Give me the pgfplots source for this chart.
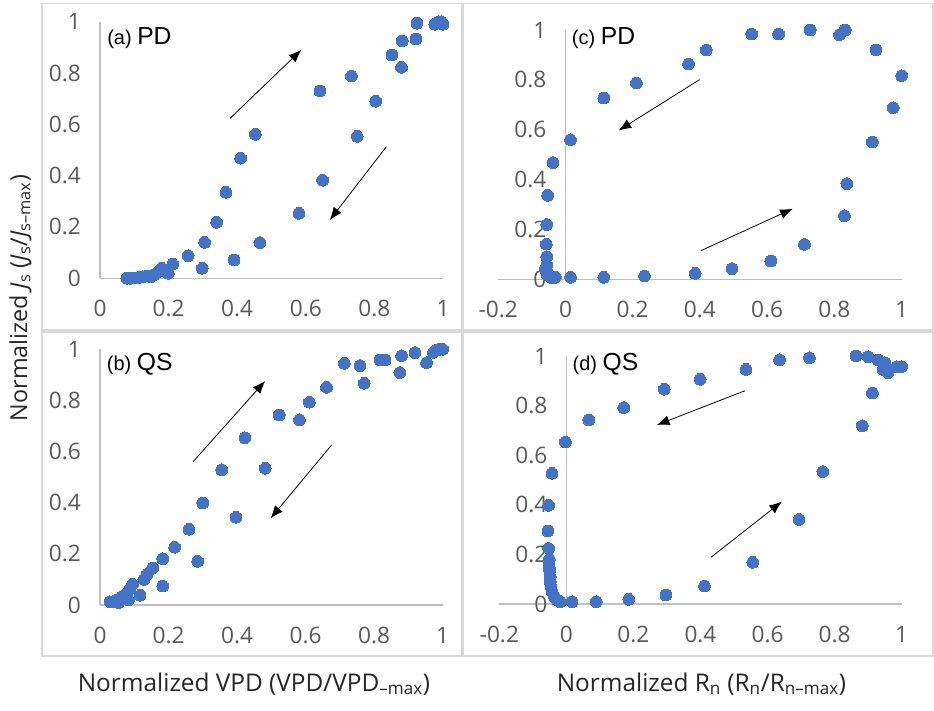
\documentclass[border=0pt]{standalone}
\usepackage{pgfplots}
\pgfplotsset{compat=1.18}
\usepackage{fontspec}
\setmainfont{Open Sans}
\newfontfamily\arialf{Liberation Sans}
\usetikzlibrary{arrows.meta}
\definecolor{dotblue}{HTML}{4472C4}
\definecolor{ticktxt}{HTML}{595959}
\definecolor{axln}{HTML}{BFBFBF}
\definecolor{frm}{HTML}{D9D9D9}

\pgfplotstableread{
x y
0.078 0.000
0.089 0.000
0.100 0.001
0.112 0.003
0.124 0.006
0.136 0.009
0.148 0.006
0.157 0.013
0.170 0.026
0.180 0.039
0.199 0.019
0.212 0.055
0.257 0.088
0.298 0.039
0.305 0.140
0.340 0.218
0.367 0.335
0.391 0.071
0.410 0.468
0.453 0.561
0.466 0.139
0.580 0.253
0.641 0.730
0.649 0.382
0.733 0.788
0.750 0.553
0.804 0.690
0.851 0.870
0.879 0.822
0.881 0.925
0.921 0.932
0.924 0.994
0.976 0.990
0.988 1.000
0.995 1.000
1.000 0.990
}\dataA

\pgfplotstableread{
x y
0.029 0.013
0.039 0.013
0.049 0.020
0.054 0.009
0.058 0.026
0.068 0.035
0.078 0.046
0.083 0.020
0.088 0.065
0.095 0.081
0.117 0.038
0.128 0.100
0.138 0.121
0.154 0.145
0.183 0.074
0.183 0.181
0.218 0.226
0.260 0.296
0.285 0.171
0.300 0.399
0.355 0.529
0.397 0.343
0.423 0.654
0.482 0.535
0.523 0.743
0.582 0.724
0.611 0.793
0.661 0.851
0.713 0.945
0.759 0.936
0.771 0.867
0.817 0.958
0.832 0.958
0.875 0.909
0.880 0.975
0.919 0.987
0.953 0.948
0.973 0.988
0.982 0.997
0.992 1.000
1.000 1.000
}\dataB

\pgfplotstableread{
x y
-0.060 0.040
-0.055 0.020
-0.045 0.011
-0.040 0.005
-0.030 0.008
0.015 0.008
0.114 0.008
0.235 0.013
0.386 0.024
0.495 0.043
0.611 0.073
0.711 0.140
0.830 0.255
0.837 0.384
0.913 0.551
0.975 0.688
1.000 0.817
0.924 0.920
0.832 1.000
0.815 0.981
0.728 1.000
0.634 0.984
0.554 0.984
0.419 0.920
0.366 0.864
0.211 0.787
0.114 0.727
0.015 0.560
-0.037 0.468
-0.053 0.337
-0.056 0.220
-0.057 0.141
-0.056 0.091
-0.056 0.057
-0.054 0.031
}\dataC

\pgfplotstableread{
x y
0.864 1.000
0.900 0.997
0.930 0.984
0.950 0.973
0.945 0.946
0.960 0.933
0.985 0.957
1.000 0.957
0.913 0.851
0.883 0.719
0.765 0.534
0.694 0.341
0.556 0.168
0.412 0.073
0.297 0.036
0.186 0.019
0.089 0.009
0.017 0.009
-0.018 0.009
-0.028 0.016
-0.036 0.030
-0.043 0.050
-0.046 0.070
-0.048 0.090
-0.048 0.110
-0.050 0.137
-0.052 0.157
-0.051 0.180
-0.053 0.224
-0.055 0.294
-0.053 0.398
-0.043 0.527
-0.003 0.653
0.067 0.742
0.171 0.792
0.292 0.866
0.399 0.906
0.536 0.946
0.636 0.985
0.725 0.993
}\dataD

\tikzset{
  arr/.style={black, line width=0.6pt, -{Latex[length=9.5pt, width=7.5pt]}},
}
\pgfplotsset{
  panel/.style={
    scale only axis,
    axis lines=middle,
    axis line style={draw=axln, line width=0.9pt, -},
    major tick length=0pt,
    hide obscured x ticks=false,
    hide obscured y ticks=false,
    enlargelimits=false,
    clip=false,
    ymin=0, ymax=1, xmax=1,
    ytick={0,0.2,0.4,0.6,0.8,1},
    yticklabels={0,0.2,0.4,0.6,0.8,1},
    tick label style={font=\fontsize{17}{20}\selectfont, text=ticktxt},
    xticklabel style={anchor=north, yshift=-13pt},
    yticklabel style={anchor=east, xshift=-10.8pt},
  },
  dots/.style={only marks, mark=*, mark size=4.4pt, mark options={fill=dotblue, draw=dotblue, line width=0pt}},
}

\begin{document}
\begin{tikzpicture}
\useasboundingbox (0,0) rectangle (700.5pt,532.5pt);
% panel frames
\draw[frm, line width=0.8pt] (31.5pt,285pt) rectangle (346.5pt,530pt);
\draw[frm, line width=0.8pt] (31.5pt,40.5pt) rectangle (346.5pt,283.5pt);
\draw[frm, line width=0.8pt] (347.25pt,285pt) rectangle (699.75pt,530pt);
\draw[frm, line width=0.8pt] (347.25pt,40.5pt) rectangle (699.75pt,283.5pt);

% (a)
\begin{axis}[panel, at={(75pt,323.8pt)}, anchor=south west,
  width=257.25pt, height=192.45pt, xmin=0,
  xtick={0,0.2,0.4,0.6,0.8,1}, xticklabels={0,0.2,0.4,0.6,0.8,1}]
\addplot[dots] table[x=x,y=y] {\dataA};
\draw[arr] (axis cs:0.379,0.623) -- (axis cs:0.587,0.890);
\draw[arr] (axis cs:0.835,0.513) -- (axis cs:0.670,0.227);
\end{axis}

% (b)
\begin{axis}[panel, at={(75pt,78.75pt)}, anchor=south west,
  width=257pt, height=191.8pt, xmin=0,
  xtick={0,0.2,0.4,0.6,0.8,1}, xticklabels={0,0.2,0.4,0.6,0.8,1}]
\addplot[dots] table[x=x,y=y] {\dataB};
\draw[arr] (axis cs:0.272,0.561) -- (axis cs:0.482,0.876);
\draw[arr] (axis cs:0.676,0.626) -- (axis cs:0.498,0.339);
\end{axis}

% (c)
\begin{axis}[panel, at={(373.7pt,323pt)}, anchor=south west,
  width=302.5pt, height=187pt, xmin=-0.2,
  xtick={-0.2,0,0.2,0.4,0.6,0.8,1}, xticklabels={-0.2,0,0.2,0.4,0.6,0.8,1}]
\addplot[dots] table[x=x,y=y] {\dataC};
\draw[arr] (axis cs:0.399,0.801) -- (axis cs:0.158,0.597);
\draw[arr] (axis cs:0.403,0.115) -- (axis cs:0.676,0.283);
\end{axis}

% (d)
\begin{axis}[panel, at={(374.5pt,79.5pt)}, anchor=south west,
  width=301.7pt, height=186pt, xmin=-0.2,
  xtick={-0.2,0,0.2,0.4,0.6,0.8,1}, xticklabels={-0.2,0,0.2,0.4,0.6,0.8,1}]
\addplot[dots] table[x=x,y=y] {\dataD};
\draw[arr] (axis cs:0.533,0.860) -- (axis cs:0.270,0.722);
\draw[arr] (axis cs:0.431,0.188) -- (axis cs:0.643,0.413);
\end{axis}

% panel labels
\node[anchor=base west, inner sep=0pt] at (80.25pt,498.75pt) {\arialf\fontsize{15}{18}\selectfont (a) \fontsize{18.5}{20}\selectfont PD};
\node[anchor=base west, inner sep=0pt] at (80pt,254.5pt) {\arialf\fontsize{15}{18}\selectfont (b) \fontsize{18.5}{20}\selectfont QS};
\node[anchor=base west, inner sep=0pt] at (428.75pt,498.75pt) {\arialf\fontsize{15}{18}\selectfont (c) \fontsize{18.5}{20}\selectfont PD};
\node[anchor=base west, inner sep=0pt] at (429.3pt,254.5pt) {\arialf\fontsize{15}{18}\selectfont (d) \fontsize{18.5}{20}\selectfont QS};

% axis titles
\node[anchor=base, inner sep=0pt, text=black!85] at (190.5pt,14.25pt) {\fontsize{18.3}{20}\selectfont Normalized VPD (VPD/VPD\textsubscript{–max})};
\node[anchor=base, inner sep=0pt, text=black!85] at (526.1pt,14.25pt) {\fontsize{18.3}{20}\selectfont Normalized R\textsubscript{n} (R\textsubscript{n}/R\textsubscript{n–max})};
\node[rotate=90, anchor=base, inner sep=0pt, text=black!85] at (20.25pt,309pt) {\fontsize{17.5}{20}\selectfont Normalized \textit{J}\textsubscript{s} (\textit{J}\textsubscript{s}/\textit{J}\textsubscript{s–max})};
\end{tikzpicture}
\end{document}
